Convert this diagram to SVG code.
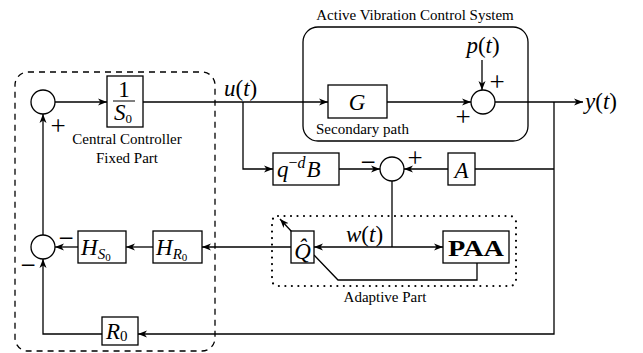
<svg xmlns="http://www.w3.org/2000/svg" width="643" height="353" viewBox="0 0 643 353">
<style>
.b{fill:#fff;stroke:#000;stroke-width:1.3}
.c{fill:#fff;stroke:#000;stroke-width:1.3}
.w{fill:none;stroke:#000;stroke-width:1.3}
.t{font-family:"Liberation Serif",serif;font-size:15px;fill:#000}
.m{font-family:"Liberation Serif",serif;font-size:23px;fill:#000}
.i{font-style:italic}
.s{font-family:"Liberation Serif",serif;font-size:27px;fill:#000}
</style>
<defs>
<marker id="a" markerWidth="10" markerHeight="8" refX="9" refY="4" orient="auto" markerUnits="userSpaceOnUse">
<path d="M0,0.5 L9,4 L0,7.5 L2.5,4 z" fill="#000"/>
</marker>
</defs>
<rect x="0" y="0" width="643" height="353" fill="#fff"/>
<g id="groups">
<rect x="15" y="72" width="200" height="279" rx="13" fill="none" stroke="#000" stroke-width="1.3" stroke-dasharray="6,5"/>
<rect x="303" y="27" width="225" height="114" rx="15" fill="none" stroke="#000" stroke-width="1.3"/>
<rect x="272" y="216" width="244" height="70" rx="6" fill="none" stroke="#000" stroke-width="2.2" stroke-dasharray="0,6.5" stroke-linecap="round"/>
<text class="t" x="415" y="20" text-anchor="middle">Active Vibration Control System</text>
<text class="t" x="316" y="134">Secondary path</text>
<text class="t" x="127" y="144" text-anchor="middle">Central Controller</text>
<text class="t" x="127" y="163" text-anchor="middle">Fixed Part</text>
<text class="t" x="385" y="302" text-anchor="middle">Adaptive Part</text>
</g>
<g id="connectors">
<path class="w" d="M55,102 H107" marker-end="url(#a)"/>
<path class="w" d="M143,102 H328" marker-end="url(#a)"/>
<path class="w" d="M387,102 H471" marker-end="url(#a)"/>
<path class="w" d="M482,60 V90" marker-end="url(#a)"/>
<path class="w" d="M495,102 H583" marker-end="url(#a)"/>
<path class="w" d="M243,102 V169 H273" marker-end="url(#a)"/>
<path class="w" d="M339,169 H380" marker-end="url(#a)"/>
<path class="w" d="M554,102 V334 H138" marker-end="url(#a)"/>
<path class="w" d="M554,169 H475"/>
<path class="w" d="M448,169 H404" marker-end="url(#a)"/>
<path class="w" d="M392,181 V247"/>
<path class="w" d="M392,247 H314" marker-end="url(#a)"/>
<path class="w" d="M392,247 H443" marker-end="url(#a)"/>
<path class="w" d="M314,255 L338,280 H477 V263"/>
<path class="w" d="M292,232 L280,219" marker-end="url(#a)"/>
<path class="w" d="M291,247 H202" marker-end="url(#a)"/>
<path class="w" d="M153,247 H126" marker-end="url(#a)"/>
<path class="w" d="M78,247 H55" marker-end="url(#a)"/>
<path class="w" d="M43,235 V114" marker-end="url(#a)"/>
<path class="w" d="M102,334 H43 V259" marker-end="url(#a)"/>
</g>
<g id="sum1">
<circle class="c" cx="43" cy="102" r="12"/>
<text class="s" x="58" y="135" text-anchor="middle">+</text>
</g>
<g id="invS0">
<rect class="b" x="107" y="76" width="36" height="51"/>
<text class="m" x="124" y="97" text-anchor="middle" font-size="18">1</text>
<line x1="113" y1="101" x2="135" y2="101" stroke="#000" stroke-width="1"/>
<text class="m" x="123" y="120" text-anchor="middle" font-size="19"><tspan class="i">S</tspan><tspan font-size="13" dy="3">0</tspan></text>
</g>
<g id="u-label"><text class="m" x="224" y="96"><tspan class="i">u</tspan>(<tspan class="i">t</tspan>)</text></g>
<g id="G">
<rect class="b" x="328" y="85" width="59" height="33"/>
<text class="m i" x="357" y="110" text-anchor="middle">G</text>
</g>
<g id="sum3">
<circle class="c" cx="483" cy="102" r="12"/>
<text class="m" x="483" y="53" text-anchor="middle"><tspan class="i">p</tspan>(<tspan class="i">t</tspan>)</text>
<text class="s" x="497" y="91" text-anchor="middle">+</text>
<text class="s" x="463" y="126" text-anchor="middle">+</text>
</g>
<g id="y-label"><text class="m" x="585" y="109"><tspan class="i">y</tspan>(<tspan class="i">t</tspan>)</text></g>
<g id="qB">
<rect class="b" x="273" y="153" width="66" height="32"/>
<text class="m" x="277" y="177"><tspan class="i">q</tspan><tspan font-size="16" dy="-9">−</tspan><tspan font-size="16" class="i">d</tspan><tspan class="i" dy="9" dx="1">B</tspan></text>
</g>
<g id="sum2">
<circle class="c" cx="392" cy="169" r="12"/>
<text class="s" x="368" y="171" text-anchor="middle">−</text>
<text class="s" x="415" y="167" text-anchor="middle">+</text>
</g>
<g id="A">
<rect class="b" x="448" y="153" width="27" height="32"/>
<text class="m i" x="461.5" y="178" text-anchor="middle">A</text>
</g>
<g id="Qhat">
<rect class="b" x="291" y="231" width="23" height="32"/>
<text class="m i" x="302.5" y="259" text-anchor="middle" font-size="21">Q̂</text>
</g>
<g id="w-label"><text class="m" x="346" y="242"><tspan class="i">w</tspan>(<tspan class="i">t</tspan>)</text></g>
<g id="PAA">
<rect class="b" x="443" y="231" width="66" height="32"/>
<text class="m" x="448" y="256" font-weight="bold" font-size="23" textLength="56" lengthAdjust="spacingAndGlyphs">PAA</text>
</g>
<g id="HR0">
<rect class="b" x="153" y="231" width="49" height="32"/>
<text class="m" x="156" y="255"><tspan class="i">H</tspan><tspan class="i" font-size="15" dy="4">R</tspan><tspan font-size="11" dy="2">0</tspan></text>
</g>
<g id="HS0">
<rect class="b" x="78" y="231" width="48" height="32"/>
<text class="m" x="81" y="255"><tspan class="i">H</tspan><tspan class="i" font-size="15" dy="4">S</tspan><tspan font-size="11" dy="2">0</tspan></text>
</g>
<g id="sum4">
<circle class="c" cx="43" cy="247" r="12"/>
<text class="s" x="66" y="247" text-anchor="middle">−</text>
<text class="s" x="28" y="274" text-anchor="middle">−</text>
</g>
<g id="R0">
<rect class="b" x="102" y="317" width="36" height="28"/>
<text class="m" x="106" y="339"><tspan class="i">R</tspan><tspan font-size="15" dy="2">0</tspan></text>
</g>
</svg>
